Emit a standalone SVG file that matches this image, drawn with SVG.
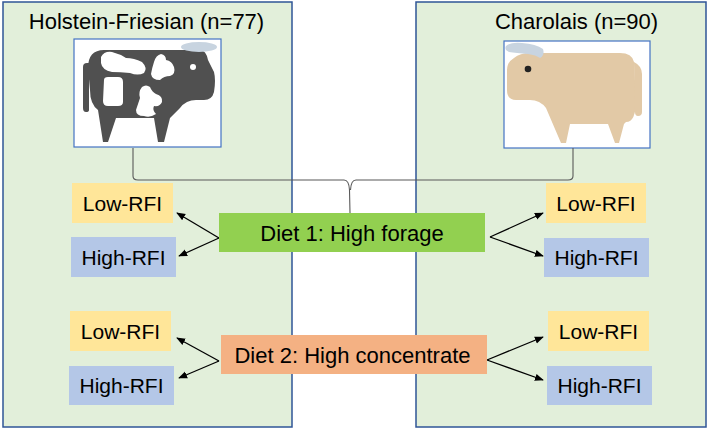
<svg xmlns="http://www.w3.org/2000/svg" width="708" height="430" viewBox="0 0 708 430">
<defs>
<marker id="ah" viewBox="0 0 10 10" refX="9" refY="5" markerWidth="9" markerHeight="9" markerUnits="userSpaceOnUse" orient="auto">
<path d="M0,1 L10,5 L0,9 Z" fill="#000"/>
</marker>
</defs>
<style>
.panel{fill:#E2EFDA;stroke:#2F5597;stroke-width:1.5}
.img{fill:#fff;stroke:#4472C4;stroke-width:1.2}
.t{font-family:"Liberation Sans",Arial,sans-serif;fill:#000;text-anchor:middle}
.title{font-size:22px}
.box{font-size:21px}
.diet{font-size:22px}
.low{fill:#FFE699}
.high{fill:#B4C7E7}
.arr{stroke:#000;stroke-width:1.3;fill:none;marker-end:url(#ah)}
.con{stroke:#595959;stroke-width:1.1;fill:none}
</style>
<rect width="708" height="430" fill="#fff"/>

<g id="panel-holstein">
<rect class="panel" x="3" y="2" width="289" height="425"/>
<text class="t title" x="146.5" y="29">Holstein-Friesian (n=77)</text>
</g>
<g id="panel-charolais">
<rect class="panel" x="416" y="2" width="290" height="425"/>
<text class="t title" x="576.5" y="29">Charolais (n=90)</text>
</g>

<g id="node-holstein-image">
<rect class="img" x="74" y="39" width="147" height="108"/>
<path d="M88,68 Q88,50 104,50 L200,50 Q206,50 208,60 L214,72 Q216,80 214,92 Q212,100 204,100 L196,100 Q186,100 180,108 L170,118 L164,142 L158,142 L154,118 L116,118 L108,142 L103,142 L98,110 Q90,104 90,90 Z" fill="#505050"/>
<path d="M83,67 Q83,63 87,63 L89,63 L89,110 Q89,112 86,112 Q83,112 83,108 Z" fill="#505050"/>
<path d="M101,57 Q104,51 112,52 Q120,54 126,58 Q134,58 142,62 Q148,68 144,73 Q138,76 130,73 Q120,72 112,72 Q102,70 101,63 Z" fill="#fff"/>
<path d="M154,62 Q156,55 161,54 Q166,55 166,60 Q172,61 174,67 Q176,74 170,76 Q164,76 160,80 Q152,80 151,74 Q152,68 154,62 Z" fill="#fff"/>
<path d="M104,80 Q104,77 108,77 L118,77 Q123,77 123,82 L123,102 Q123,106 118,106 L108,106 Q103,106 103,101 Z" fill="#fff"/>
<path d="M142,87 Q146,84 150,87 Q152,92 156,94 Q163,96 162,102 Q160,107 154,106 Q152,110 156,114 Q150,118 144,116 Q136,116 136,110 Q138,104 140,98 Q138,92 142,87 Z" fill="#fff"/>
<ellipse cx="199" cy="47" rx="18" ry="5" fill="#C8D4E0"/>
<circle cx="193" cy="67" r="3" fill="#fff"/>
</g>

<g id="node-charolais-image">
<rect class="img" x="504" y="41" width="146" height="107"/>
<path d="M514,58 Q520,53 530,53 L620,53 Q632,53 634,62 L636,100 Q636,122 626,122 L624,124 L619,143 L615,143 L608,124 L570,124 L566,143 L561,143 L546,108 Q540,100 530,100 L516,100 Q507,100 507,90 L507,70 Q507,62 514,58 Z" fill="#E2C9A6"/>
<path d="M634,62 Q642,66 642,74 L642,112 Q642,116 638,116 Q635,116 635,112 Z" fill="#E2C9A6"/>
<path d="M506,46 Q510,42 522,43 Q536,44 543,49 Q545,55 540,58 Q536,55 528,54 Q516,53 509,52 Q504,50 506,46 Z" fill="#C8D4E0"/>
<circle cx="528" cy="69" r="3.3" fill="#222"/>
</g>

<g id="connectors">
<path class="con" d="M133,148 L133,176 Q133,180 138,180 L344,180 Q349,180 349.5,190 L350,213"/>
<path class="con" d="M573,148 L573,176 Q573,180 568,180 L356,180 Q351,180 350.5,190"/>
<line class="arr" x1="219" y1="238" x2="177" y2="213"/>
<line class="arr" x1="219" y1="238" x2="179" y2="256"/>
<line class="arr" x1="219" y1="361" x2="177" y2="338"/>
<line class="arr" x1="219" y1="361" x2="179" y2="378"/>
<line class="arr" x1="490" y1="237" x2="543" y2="213"/>
<line class="arr" x1="490" y1="237" x2="543" y2="256"/>
<line class="arr" x1="487" y1="360" x2="543" y2="337"/>
<line class="arr" x1="487" y1="360" x2="543" y2="380"/>
</g>

<g id="node-diet1">
<rect x="219" y="213" width="266" height="39" fill="#92D050"/>
<text class="t diet" x="352" y="240.5">Diet 1: High forage</text>
</g>
<g id="node-diet2">
<rect x="221" y="335" width="266" height="39" fill="#F4B183"/>
<text class="t diet" x="352.5" y="362.5">Diet 2: High concentrate</text>
</g>

<g id="node-hf-low1"><rect class="low" x="72" y="183" width="101" height="40"/><text class="t box" x="122.5" y="210.5">Low-RFI</text></g>
<g id="node-hf-high1"><rect class="high" x="71" y="237" width="105" height="40"/><text class="t box" x="123.5" y="264.5">High-RFI</text></g>
<g id="node-hf-low2"><rect class="low" x="70" y="311" width="101" height="40"/><text class="t box" x="120.5" y="338.5">Low-RFI</text></g>
<g id="node-hf-high2"><rect class="high" x="69" y="366" width="105" height="39"/><text class="t box" x="121.5" y="393">High-RFI</text></g>

<g id="node-ch-low1"><rect class="low" x="546" y="183" width="100" height="40"/><text class="t box" x="596" y="210.5">Low-RFI</text></g>
<g id="node-ch-high1"><rect class="high" x="544" y="238" width="105" height="39"/><text class="t box" x="596.5" y="265">High-RFI</text></g>
<g id="node-ch-low2"><rect class="low" x="548" y="311" width="101" height="40"/><text class="t box" x="598.5" y="338.5">Low-RFI</text></g>
<g id="node-ch-high2"><rect class="high" x="547" y="366" width="105" height="39"/><text class="t box" x="599.5" y="393">High-RFI</text></g>
</svg>
